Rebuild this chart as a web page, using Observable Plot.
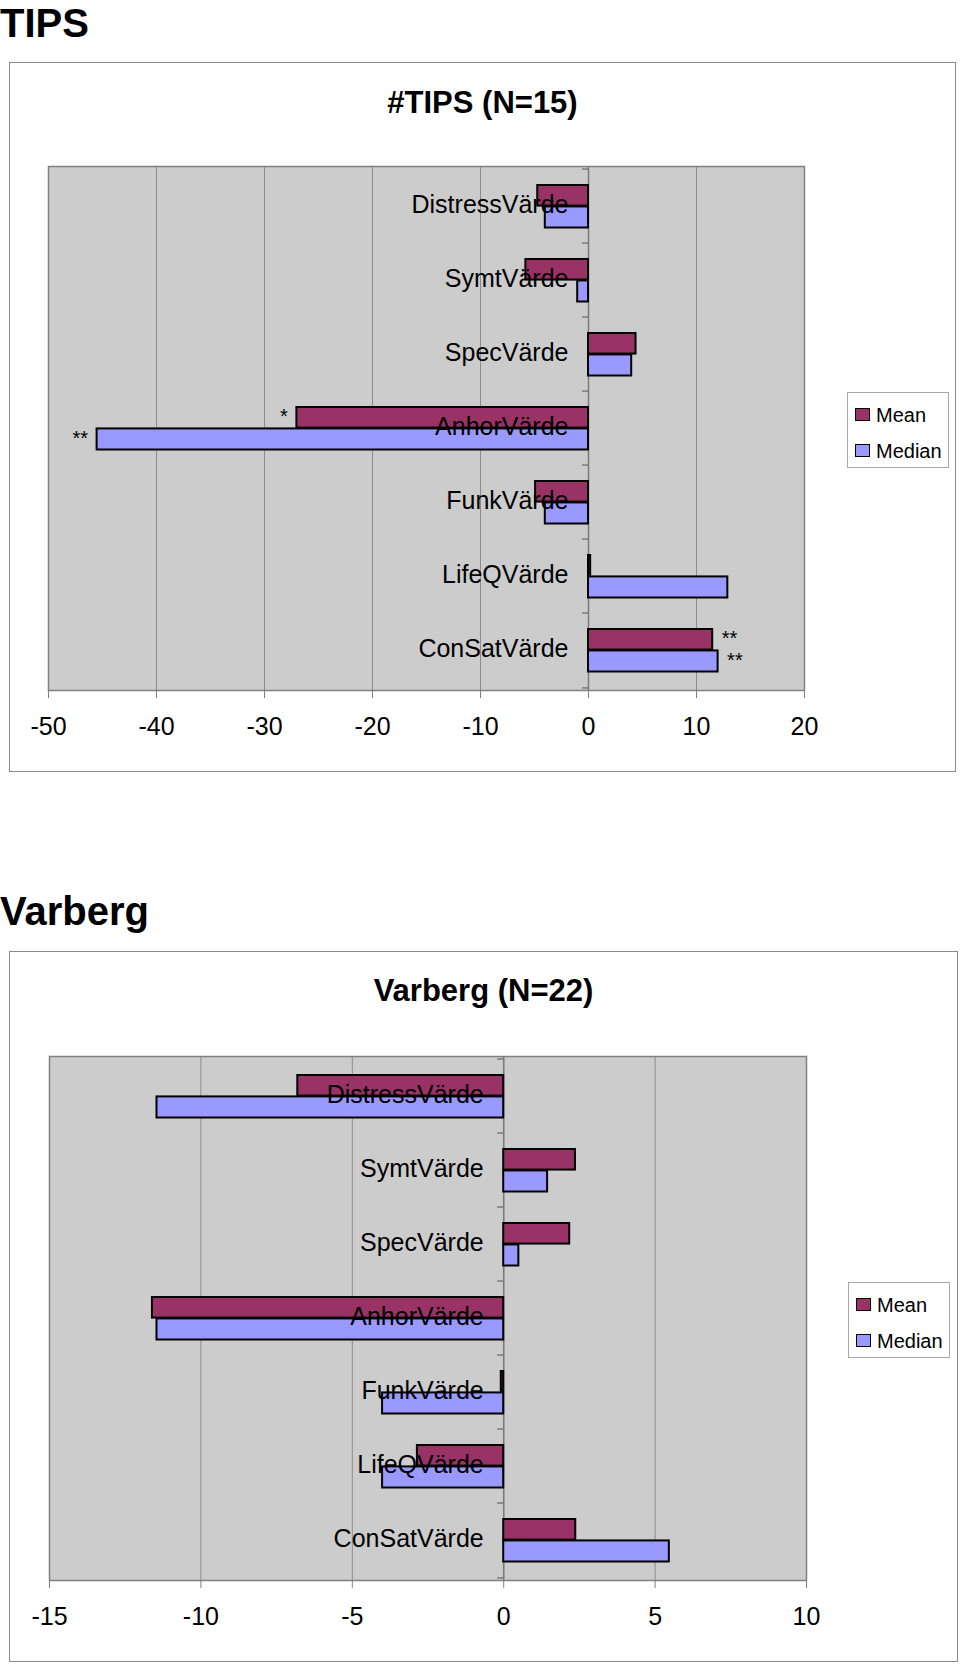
<!DOCTYPE html>
<html><head><meta charset="utf-8">
<script src="https://cdn.jsdelivr.net/npm/d3@7"></script>
<script src="https://cdn.jsdelivr.net/npm/@observablehq/plot@0.6"></script>
<style>
body{margin:0;background:#fff;font-family:"Liberation Sans",Arial,sans-serif;color:#000;}
#page{position:relative;width:960px;height:1665px;overflow:hidden;}
.abs{position:absolute;}
.h{font-weight:bold;font-size:40px;line-height:1;left:0;white-space:nowrap;}
.frame{border:1.5px solid #8a8a8a;box-sizing:border-box;}
.title{font-weight:bold;font-size:31px;line-height:1;text-align:center;white-space:nowrap;}
.legend{border:1px solid #a8a8a8;box-sizing:border-box;background:#fff;}
.sw{position:absolute;left:7px;width:15px;height:13px;border:1.5px solid #000;box-sizing:border-box;}
.lt{position:absolute;left:28px;font-size:20px;line-height:20px;white-space:nowrap;}
</style></head><body><div id="page"></div>
<script>
// ---- data ----
const categories = ["DistressVärde","SymtVärde","SpecVärde","AnhorVärde","FunkVärde","LifeQVärde","ConSatVärde"];
const seriesNames = ["Mean","Median"];
const seriesColors = ["#993366","#9999ff"];

const tipsTitle = "#TIPS (N=15)";
const tipsMean   = [-4.7, -5.8, 4.4, -27.0, -4.9, 0.2, 11.5];
const tipsMedian = [-4.0, -1.0, 4.0, -45.5, -4.0, 12.9, 12.0];
const tipsMeanStars   = ["", "", "", "*",  "", "", "**"];
const tipsMedianStars = ["", "", "", "**", "", "", "**"];
const tipsTicks = [-50, -40, -30, -20, -10, 0, 10, 20];

const varbergTitle = "Varberg (N=22)";
const varbergMean   = [-6.8, 2.37, 2.18, -11.6, -0.08, -2.85, 2.38];
const varbergMedian = [-11.45, 1.45, 0.5, -11.45, -4.0, -4.0, 5.47];
const varbergMeanStars   = ["", "", "", "", "", "", ""];
const varbergMedianStars = ["", "", "", "", "", "", ""];
const varbergTicks = [-15, -10, -5, 0, 5, 10];

const FONT = '"Liberation Sans", Arial, sans-serif';
const page = document.getElementById("page");

function el(cls, style, text) {
  const d = document.createElement("div");
  d.className = cls;
  Object.assign(d.style, style);
  if (text != null) d.textContent = text;
  page.appendChild(d);
  return d;
}

function starMarks(rows, valueKey, textKey, dy) {
  const neg = rows.filter(d => d[textKey] && d[valueKey] < 0);
  const pos = rows.filter(d => d[textKey] && d[valueKey] >= 0);
  return [
    Plot.text(neg, {x: valueKey, y: "cat", text: textKey, dx: -9, dy, textAnchor: "end", fontSize: 20, fill: "black"}),
    Plot.text(pos, {x: valueKey, y: "cat", text: textKey, dx: 9, dy, textAnchor: "start", fontSize: 20, fill: "black"})
  ];
}

function makeChart({mean, median, meanStars, medianStars, ticks, marginLeft, marginRight}) {
  const marginTop = 20, marginBottom = 70, plotH = 524;
  const width = 960, height = marginTop + plotH + marginBottom;
  const bw = plotH / categories.length;
  const domain = [ticks[0], ticks[ticks.length - 1]];
  const pxPerUnit = (width - marginLeft - marginRight) / (domain[1] - domain[0]);
  const tickLen = 6 / pxPerUnit;
  const rows = categories.map((c, i) => ({
    cat: c, mean: mean[i], median: median[i], ms: meanStars[i], ds: medianStars[i]
  }));
  const last = [categories[categories.length - 1]];
  return Plot.plot({
    width, height, marginLeft, marginRight, marginTop, marginBottom,
    style: {background: "transparent", fontFamily: FONT, color: "black", overflow: "visible"},
    x: {domain, axis: null},
    y: {domain: categories, padding: 0, axis: null},
    marks: [
      Plot.frame({fill: "#cccccc", stroke: "none"}),
      Plot.gridX(ticks, {stroke: "#8c8c8c", strokeOpacity: 1, strokeWidth: 1}),
      Plot.ruleX([0], {stroke: "#7a7a7a", strokeWidth: 1.5}),
      Plot.ruleY(categories, {y: d => d, x1: () => -tickLen, x2: () => 0, dy: -bw / 2, stroke: "#7a7a7a", strokeWidth: 1.5}),
      Plot.ruleY(last, {y: d => d, x1: () => -tickLen, x2: () => 0, dy: bw / 2, stroke: "#7a7a7a", strokeWidth: 1.5}),
      Plot.barX(rows, {y: "cat", x1: () => 0, x2: "mean", insetTop: 16, insetBottom: bw / 2,
        fill: seriesColors[0], stroke: "#000", strokeWidth: 2}),
      Plot.barX(rows, {y: "cat", x1: () => 0, x2: "median", insetTop: bw / 2, insetBottom: 15.5,
        fill: seriesColors[1], stroke: "#000", strokeWidth: 2}),
      Plot.text(rows, {x: () => 0, y: "cat", text: "cat", dx: -20, dy: -2, textAnchor: "end",
        fontSize: 25, fill: "black"}),
      ...starMarks(rows, "mean", "ms", -12),
      ...starMarks(rows, "median", "ds", 10),
      Plot.frame({stroke: "#808080", strokeWidth: 1.5}),
      Plot.axisX(ticks, {anchor: "bottom", tickSize: 8, tickPadding: 19, stroke: "#808080",
        fill: "black", fontSize: 25, tickFormat: d => String(d)})
    ]
  });
}

function legend(left, top) {
  const box = el("abs legend", {left: left + "px", top: top + "px", width: "102px", height: "76px"});
  const rowsY = [15, 51];
  seriesNames.forEach((name, i) => {
    const s = document.createElement("div");
    s.className = "sw";
    s.style.top = rowsY[i] + "px";
    s.style.background = seriesColors[i];
    box.appendChild(s);
    const t = document.createElement("div");
    t.className = "lt";
    t.style.top = (rowsY[i] - 3.5) + "px";
    t.textContent = name;
    box.appendChild(t);
  });
}

// ---- TIPS ----
el("abs h", {top: "3px"}, "TIPS");
el("abs frame", {left: "9px", top: "62px", width: "947px", height: "710px"});
el("abs title", {left: "9px", top: "87px", width: "947px"}, tipsTitle);
const c1 = makeChart({mean: tipsMean, median: tipsMedian, meanStars: tipsMeanStars,
  medianStars: tipsMedianStars, ticks: tipsTicks, marginLeft: 48, marginRight: 156});
const w1 = el("abs", {left: "0px", top: "146px"}); w1.appendChild(c1);
legend(847, 392);

// ---- Varberg ----
el("abs h", {top: "891px"}, "Varberg");
el("abs frame", {left: "9px", top: "951px", width: "949px", height: "711px"});
el("abs title", {left: "9px", top: "975px", width: "949px"}, varbergTitle);
const c2 = makeChart({mean: varbergMean, median: varbergMedian, meanStars: varbergMeanStars,
  medianStars: varbergMedianStars, ticks: varbergTicks, marginLeft: 49, marginRight: 154});
const w2 = el("abs", {left: "0px", top: "1036px"}); w2.appendChild(c2);
legend(848, 1282);
</script>
</body></html>
